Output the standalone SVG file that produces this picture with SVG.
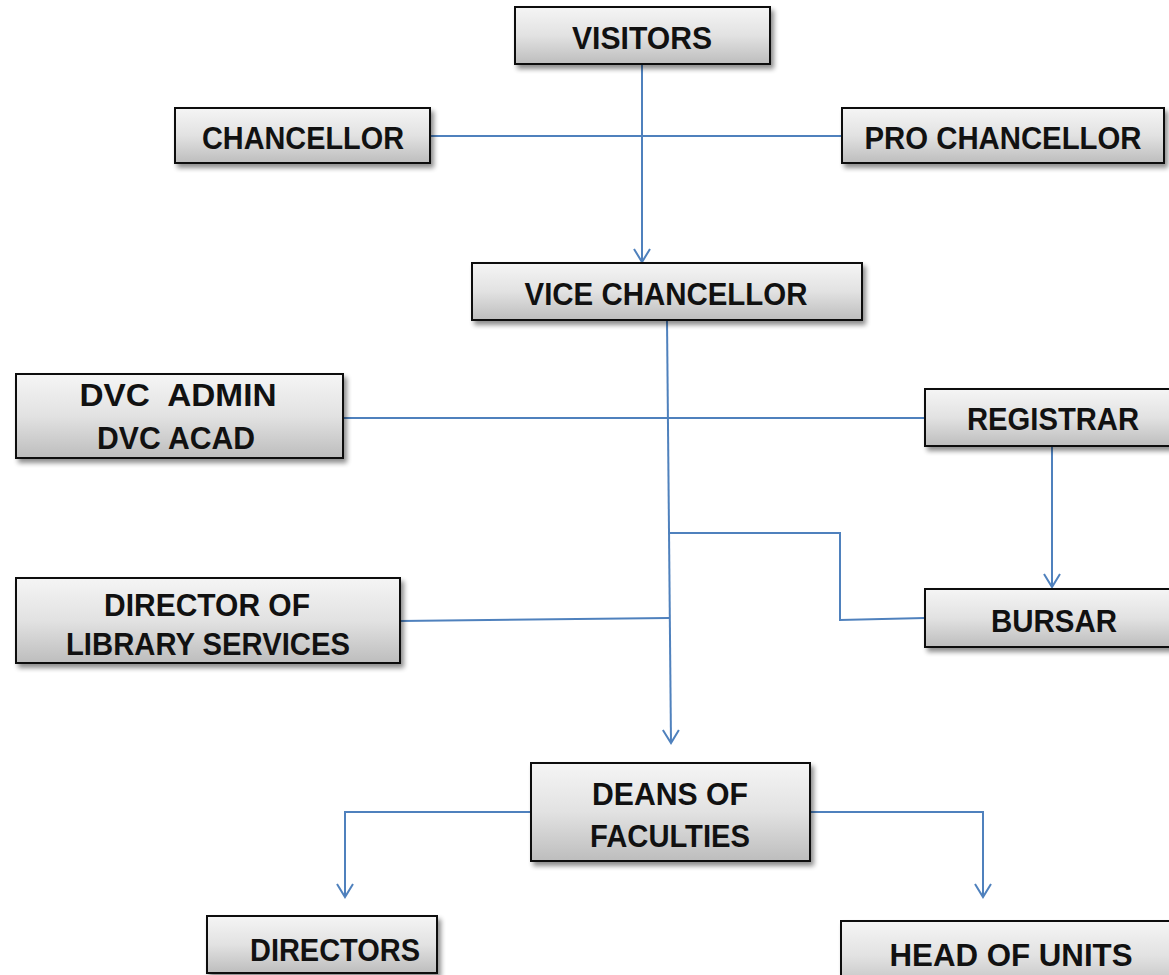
<svg xmlns="http://www.w3.org/2000/svg" width="1169" height="975" viewBox="0 0 1169 975">
  <defs>
    <linearGradient id="boxfill" x1="0" y1="0" x2="0" y2="1">
      <stop offset="0" stop-color="#f5f5f5"/>
      <stop offset="0.5" stop-color="#e2e2e2"/>
      <stop offset="1" stop-color="#bdbdbd"/>
    </linearGradient>
    <filter id="shadow" x="-10%" y="-20%" width="125%" height="150%">
      <feGaussianBlur in="SourceAlpha" stdDeviation="2.5"/>
      <feOffset dx="3" dy="4" result="b"/>
      <feComponentTransfer><feFuncA type="linear" slope="0.45"/></feComponentTransfer>
      <feMerge><feMergeNode/><feMergeNode in="SourceGraphic"/></feMerge>
    </filter>
    <marker id="arr" markerUnits="userSpaceOnUse" viewBox="-16 -10 18 20" refX="0" refY="0" markerWidth="18" markerHeight="20" orient="auto" overflow="visible">
      <path d="M-13,-8 L0,0 L-13,8" fill="none" stroke="#4f81bd" stroke-width="2"/>
    </marker>
  </defs>
  <style>
    .box { fill: url(#boxfill); stroke: #111; stroke-width: 2; filter: url(#shadow); }
    .lbl { font-family: "Liberation Sans", Arial, sans-serif; font-weight: bold; font-size: 32px; fill: #111; text-anchor: middle; white-space: pre; }
    .con { fill: none; stroke: #4f81bd; stroke-width: 2; }
  </style>
  <rect width="1169" height="975" fill="#ffffff"/>

  <g id="connectors">
    <path class="con" d="M642,64 L642,262" marker-end="url(#arr)"/>
    <path class="con" d="M430,136 L842,136"/>
    <path class="con" d="M667,320 L671,743" marker-end="url(#arr)"/>
    <path class="con" d="M343,418 L925,418"/>
    <path class="con" d="M1052,446 L1052,587" marker-end="url(#arr)"/>
    <path class="con" d="M669,533 L840,533 L840,620 L925,618"/>
    <path class="con" d="M400,621 L669,618"/>
    <path class="con" d="M531,812 L345,812 L345,897" marker-end="url(#arr)"/>
    <path class="con" d="M810,812 L983,812 L983,897" marker-end="url(#arr)"/>
  </g>

  <g id="visitors">
    <rect class="box" x="515" y="7" width="255" height="57"/>
    <text class="lbl" x="642" y="49" textLength="140" lengthAdjust="spacingAndGlyphs">VISITORS</text>
  </g>
  <g id="chancellor">
    <rect class="box" x="175" y="108" width="255" height="55"/>
    <text class="lbl" x="303" y="149" textLength="202" lengthAdjust="spacingAndGlyphs">CHANCELLOR</text>
  </g>
  <g id="pro-chancellor">
    <rect class="box" x="842" y="108" width="322" height="55"/>
    <text class="lbl" x="1003" y="149" textLength="277" lengthAdjust="spacingAndGlyphs">PRO CHANCELLOR</text>
  </g>
  <g id="vice-chancellor">
    <rect class="box" x="472" y="263" width="390" height="57"/>
    <text class="lbl" x="666" y="305" textLength="283" lengthAdjust="spacingAndGlyphs">VICE CHANCELLOR</text>
  </g>
  <g id="dvc">
    <rect class="box" x="16" y="374" width="327" height="84"/>
    <text class="lbl" x="178" y="406" textLength="197" lengthAdjust="spacingAndGlyphs">DVC  ADMIN</text>
    <text class="lbl" x="176" y="449" textLength="158" lengthAdjust="spacingAndGlyphs">DVC ACAD</text>
  </g>
  <g id="registrar">
    <rect class="box" x="925" y="389" width="250" height="57"/>
    <text class="lbl" x="1053" y="430" textLength="172" lengthAdjust="spacingAndGlyphs">REGISTRAR</text>
  </g>
  <g id="bursar">
    <rect class="box" x="925" y="589" width="250" height="58"/>
    <text class="lbl" x="1054" y="632" textLength="126" lengthAdjust="spacingAndGlyphs">BURSAR</text>
  </g>
  <g id="library">
    <rect class="box" x="16" y="578" width="384" height="85"/>
    <text class="lbl" x="207" y="616" textLength="206" lengthAdjust="spacingAndGlyphs">DIRECTOR OF</text>
    <text class="lbl" x="208" y="655" textLength="284" lengthAdjust="spacingAndGlyphs">LIBRARY SERVICES</text>
  </g>
  <g id="deans">
    <rect class="box" x="531" y="763" width="279" height="98"/>
    <text class="lbl" x="670" y="805" textLength="156" lengthAdjust="spacingAndGlyphs">DEANS OF</text>
    <text class="lbl" x="670" y="847" textLength="160" lengthAdjust="spacingAndGlyphs">FACULTIES</text>
  </g>
  <g id="directors">
    <rect class="box" x="207" y="916" width="230" height="57"/>
    <text class="lbl" x="335" y="961" textLength="170" lengthAdjust="spacingAndGlyphs">DIRECTORS</text>
  </g>
  <g id="head-of-units">
    <rect class="box" x="841" y="921" width="340" height="70"/>
    <text class="lbl" x="1011" y="966" textLength="243" lengthAdjust="spacingAndGlyphs">HEAD OF UNITS</text>
  </g>
</svg>
